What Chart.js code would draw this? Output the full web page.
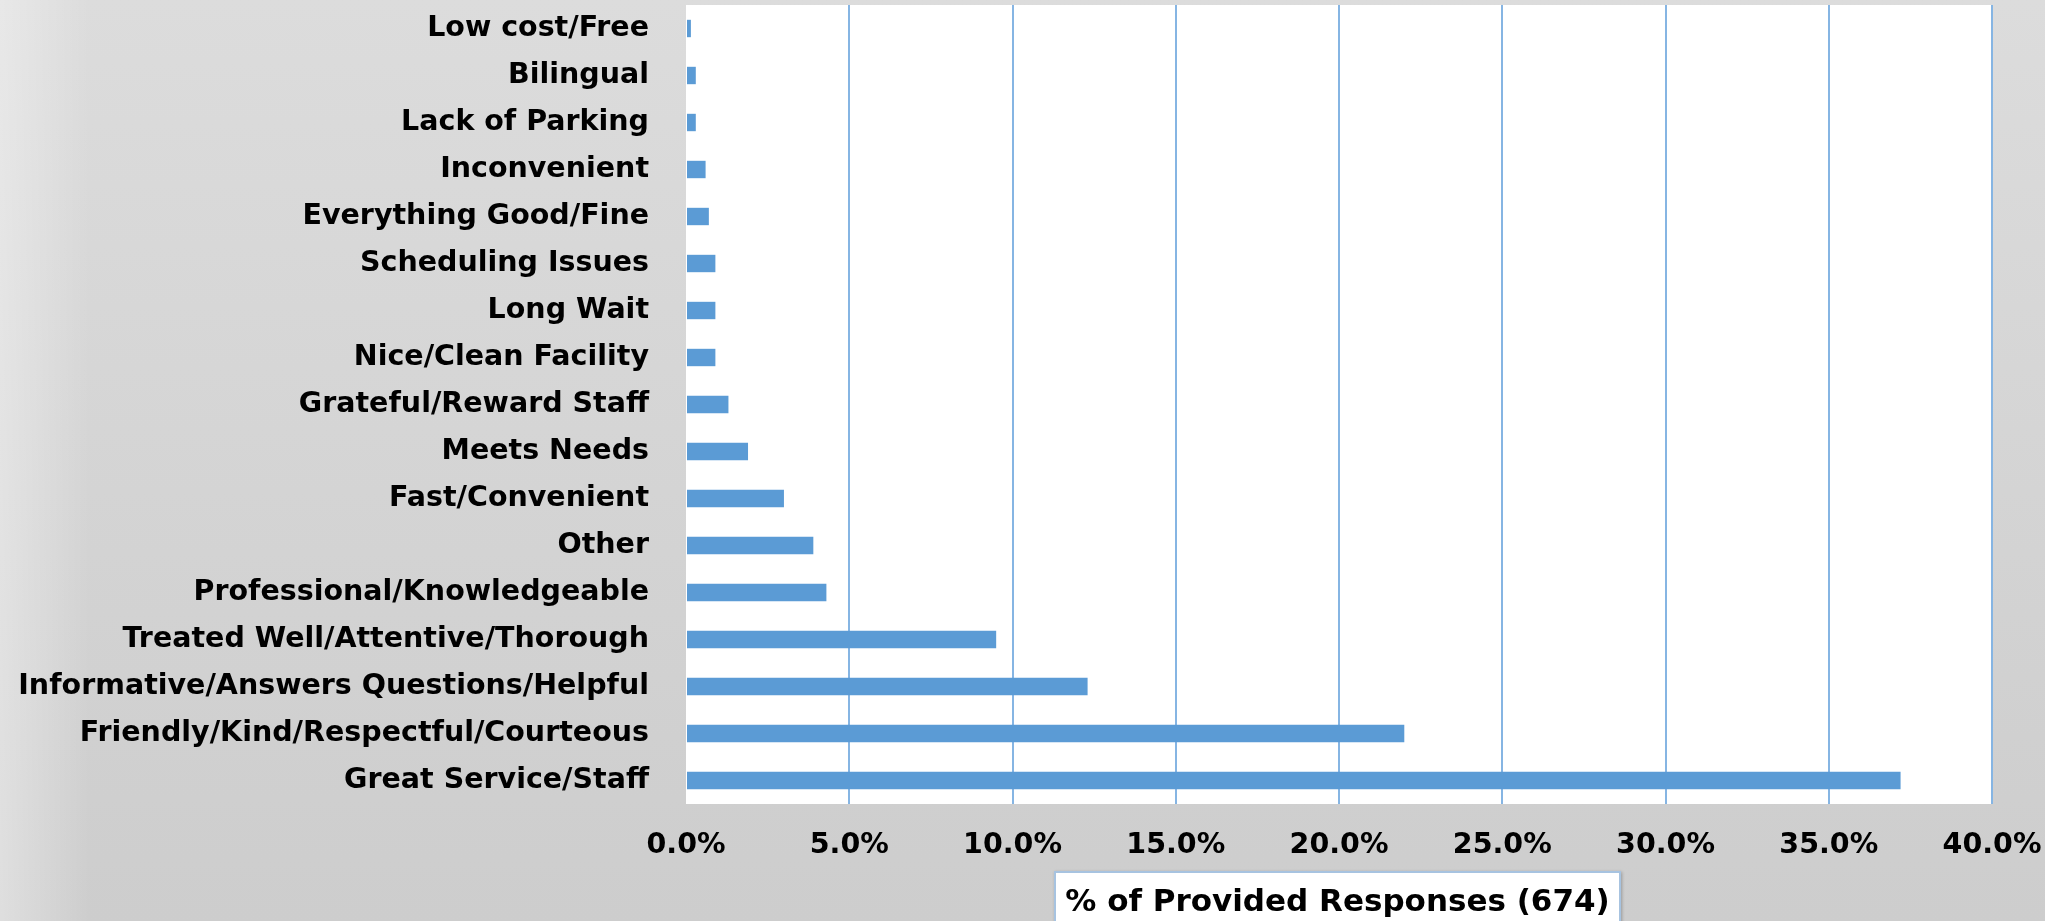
<!DOCTYPE html>
<html>
<head>
<meta charset="utf-8">
<script src="https://cdn.jsdelivr.net/npm/chart.js@4/dist/chart.umd.min.js"></script>
<style>
  html, body { margin: 0; padding: 0; }
  body {
    width: 2045px; height: 921px; overflow: hidden; position: relative;
    background:
      linear-gradient(to right, rgba(255,255,255,0.35) 0px, rgba(255,255,255,0) 90px),
      linear-gradient(to bottom, #dcdcdc, #cdcdcd);
  }
  #wrap { position: absolute; left: 0; top: 0; width: 2045px; height: 921px; }
  #axisTitle {
    position: absolute; left: 1054px; top: 871px; width: 563px; height: 70px;
    background: #fff; border: 2px solid #a7c3e0;
    box-shadow: 1px 1px 3px rgba(0,0,0,0.25);
    font: bold 31px "DejaVu Sans", sans-serif; color: #000;
    text-align: center; line-height: 54px;
  }
</style>
</head>
<body>
<div id="wrap"><canvas id="chart"></canvas></div>
<div id="axisTitle">% of Provided Responses (674)</div>
<script>
// categories, top to bottom
const labels = [
  "Low cost/Free",
  "Bilingual",
  "Lack of Parking",
  "Inconvenient",
  "Everything Good/Fine",
  "Scheduling Issues",
  "Long Wait",
  "Nice/Clean Facility",
  "Grateful/Reward Staff",
  "Meets Needs",
  "Fast/Convenient",
  "Other",
  "Professional/Knowledgeable",
  "Treated Well/Attentive/Thorough",
  "Informative/Answers Questions/Helpful",
  "Friendly/Kind/Respectful/Courteous",
  "Great Service/Staff"
]

// % of provided responses
const values = [0.15, 0.3, 0.3, 0.6, 0.7, 0.9, 0.9, 0.9, 1.3, 1.9, 3.0, 3.9, 4.3, 9.5, 12.3, 22.0, 37.2]

const tickLabels = ["0.0%", "5.0%", "10.0%", "15.0%", "20.0%", "25.0%", "30.0%", "35.0%", "40.0%"]

const font = { family: "'DejaVu Sans', sans-serif", weight: "bold", size: 28.5 }

// white plot area behind the bars
const plotBg = {
  id: "plotBg",
  beforeDraw(chart) {
    const a = chart.chartArea
    const ctx = chart.ctx
    ctx.save()
    ctx.fillStyle = "#ffffff"
    ctx.fillRect(a.left, a.top, a.right - a.left, a.bottom - a.top)
    ctx.restore()
  }
}

new Chart(document.getElementById("chart").getContext("2d"), {
  type: "bar",
  data: {
    labels: labels,
    datasets: [{
      data: values,
      backgroundColor: "#5b9bd5",
      borderWidth: 0,
      barPercentage: 0.37,
      categoryPercentage: 1.0
    }]
  },
  options: {
    indexAxis: "y",
    responsive: true,
    maintainAspectRatio: false,
    animation: false,
    layout: { padding: { top: 5, right: 53, left: 0, bottom: 0 } },
    plugins: {
      legend: { display: false },
      tooltip: { enabled: false }
    },
    scales: {
      x: {
        min: 0,
        max: 40,
        ticks: {
          stepSize: 5,
          color: "#000",
          font: font,
          padding: 24,
          maxRotation: 0,
          callback: (v, i) => tickLabels[i]
        },
        grid: {
          drawTicks: false,
          lineWidth: 2,
          color: (c) => c.index === 0 ? "rgba(0,0,0,0)" : "#86b5e3"
        },
        border: { display: false },
        // fixed axis band, label overflow handled by layout padding
        afterFit: (s) => { s.height = 117; s.paddingLeft = 0; s.paddingRight = 0 }
      },
      y: {
        ticks: { color: "#000", font: font, padding: 37 },
        grid: { display: false, drawTicks: false },
        border: { display: false },
        afterFit: (s) => { s.width = 686; s.paddingTop = 0; s.paddingBottom = 0 }
      }
    }
  },
  plugins: [plotBg]
})
</script>
</body>
</html>
